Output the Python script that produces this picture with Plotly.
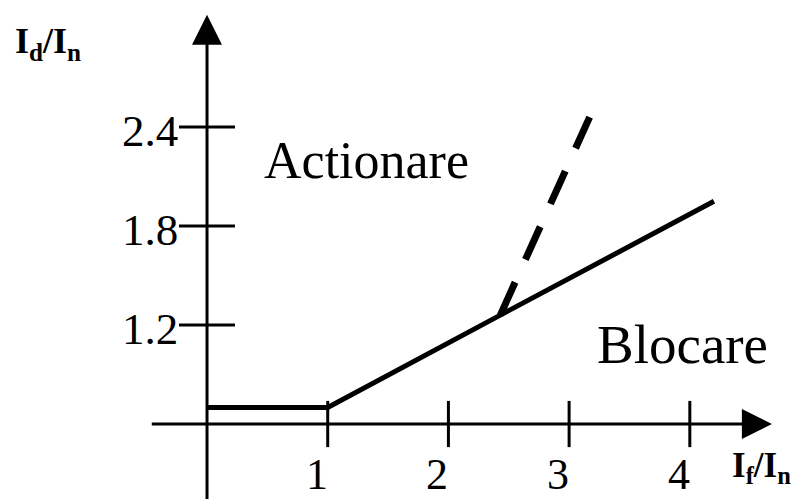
import plotly.graph_objects as go

# Differential relay characteristic: Id/In versus If/In
char_x = [0, 1, 2.43, 4.2]          # If/In at the knee points of the solid characteristic
char_y = [0.7, 0.7, 1.26, 1.95]     # Id/In at those points
steep_x = [2.43, 3.17]              # dashed high-slope branch
steep_y = [1.26, 2.46]

x_ticks = [1, 2, 3, 4]
x_tick_labels = ["1", "2", "3", "4"]
y_ticks = [1.2, 1.8, 2.4]
y_tick_labels = ["1.2", "1.8", "2.4"]

x_origin = 0.0     # where the vertical axis stands
y_origin = 0.6     # where the horizontal axis runs

SERIF = "Liberation Serif, Times New Roman, serif"
INK = "black"

fig = go.Figure()

# solid characteristic
fig.add_trace(go.Scatter(
    x=char_x, y=char_y, mode="lines",
    line=dict(color=INK, width=5), hoverinfo="skip"))

# dashed steep branch
fig.add_trace(go.Scatter(
    x=steep_x, y=steep_y, mode="lines",
    line=dict(color=INK, width=7, dash="36px,25px"), hoverinfo="skip"))

# tick marks crossing the axes
fig.add_trace(go.Scatter(
    x=x_ticks, y=[y_origin] * len(x_ticks), mode="markers",
    marker=dict(symbol="line-ns-open", size=33, color=INK,
                line=dict(color=INK, width=3)),
    hoverinfo="skip"))
fig.add_trace(go.Scatter(
    x=[x_origin] * len(y_ticks), y=y_ticks, mode="markers",
    marker=dict(symbol="line-ew-open", size=40, color=INK,
                line=dict(color=INK, width=3)),
    hoverinfo="skip"))

annotations = []

# axes drawn as arrows
annotations.append(dict(
    x=4.68, y=y_origin, ax=-0.47, ay=y_origin, xref="x", yref="y",
    axref="x", ayref="y", text="", showarrow=True,
    arrowhead=2, arrowsize=2.0, arrowwidth=3, arrowcolor=INK))
annotations.append(dict(
    x=x_origin, y=3.08, ax=x_origin, ay=0.1, xref="x", yref="y",
    axref="x", ayref="y", text="", showarrow=True,
    arrowhead=2, arrowsize=2.0, arrowwidth=3, arrowcolor=INK))

# tick labels
for v, t in zip(x_ticks, x_tick_labels):
    annotations.append(dict(
        x=v, y=y_origin, xref="x", yref="y", text=t, showarrow=False,
        xanchor="center", yanchor="middle", xshift=-11, yshift=-50,
        font=dict(family=SERIF, size=44, color=INK)))
for v, t in zip(y_ticks, y_tick_labels):
    annotations.append(dict(
        x=x_origin, y=v, xref="x", yref="y", text=t, showarrow=False,
        xanchor="right", yanchor="middle", xshift=-27, yshift=-4,
        font=dict(family=SERIF, size=45, color=INK)))

# axis titles
annotations.append(dict(
    x=-1.607, y=2.909, xref="x", yref="y", showarrow=False,
    text="<b>I<sub>d</sub>/I<sub>n</sub></b>", xanchor="left", yanchor="middle",
    font=dict(family=SERIF, size=36, color=INK)))
annotations.append(dict(
    x=4.33, y=0.339, xref="x", yref="y", showarrow=False,
    text="<b>I<sub>f</sub>/I<sub>n</sub></b>", xanchor="left", yanchor="middle",
    font=dict(family=SERIF, size=35, color=INK)))

# region names
annotations.append(dict(
    x=1.32, y=2.2, xref="x", yref="y", text="Actionare", showarrow=False,
    xanchor="center", yanchor="middle",
    font=dict(family=SERIF, size=52, color=INK)))
annotations.append(dict(
    x=3.94, y=1.085, xref="x", yref="y", text="Blocare", showarrow=False,
    xanchor="center", yanchor="middle",
    font=dict(family=SERIF, size=55, color=INK)))

fig.update_layout(
    width=797, height=499,
    margin=dict(l=0, r=0, t=0, b=0),
    paper_bgcolor="white", plot_bgcolor="white",
    showlegend=False,
    xaxis=dict(range=[-1.715, 4.888], visible=False, fixedrange=True),
    yaxis=dict(range=[0.1455, 3.170], visible=False, fixedrange=True),
    annotations=annotations,
)

fig.write_html("out.html")
